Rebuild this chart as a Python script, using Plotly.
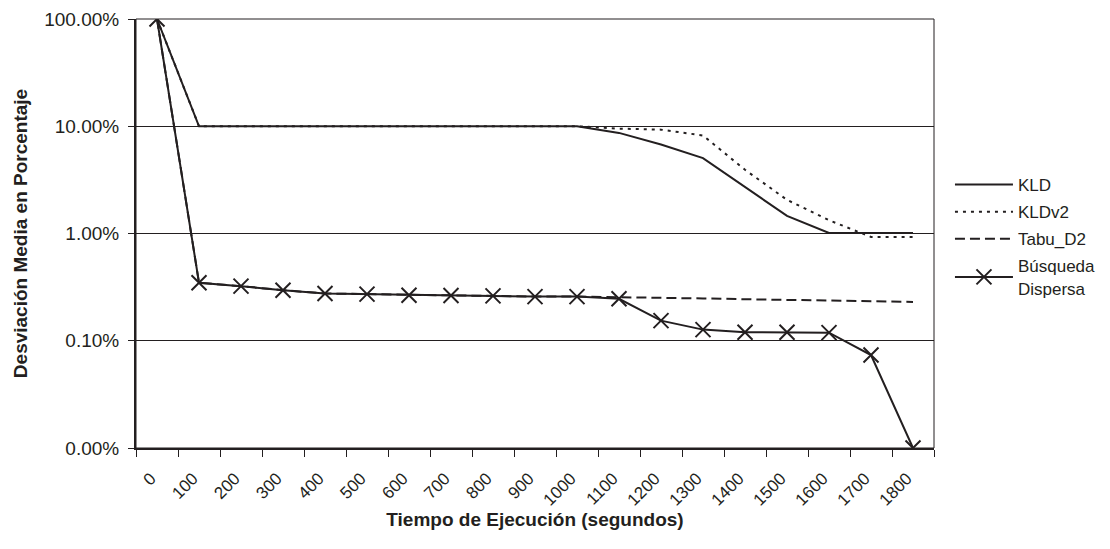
import plotly.graph_objects as go

categories = ["0", "100", "200", "300", "400", "500", "600", "700", "800", "900",
              "1000", "1100", "1200", "1300", "1400", "1500", "1600", "1700", "1800"]

kld = [1.0, 0.10, 0.10, 0.10, 0.10, 0.10, 0.10, 0.10, 0.10, 0.10,
       0.10, 0.0867, 0.0676, 0.0505, 0.0274, 0.0146, 0.0101, 0.0101, 0.0101]
kldv2 = [1.0, 0.10, 0.10, 0.10, 0.10, 0.10, 0.10, 0.10, 0.10, 0.10,
         0.10, 0.095, 0.093, 0.082, 0.0393, 0.0206, 0.0133, 0.0093, 0.0093]
tabu_d2 = [1.0, 0.00347, 0.00323, 0.00296, 0.00276, 0.00272, 0.00266, 0.00264, 0.00262, 0.00258,
           0.00258, 0.00256, 0.00252, 0.00248, 0.00244, 0.00240, 0.00237, 0.00234, 0.00230]
busqueda = [1.0, 0.00347, 0.00323, 0.00296, 0.00276, 0.00272, 0.00266, 0.00264, 0.00262, 0.00258,
            0.00258, 0.00246, 0.00154, 0.00127, 0.00120, 0.00120, 0.00119, 0.000736, 0.0001]

y_tickvals = [0.0001, 0.001, 0.01, 0.1, 1.0]
y_ticktext = ["0.00%", "0.10%", "1.00%", "10.00%", "100.00%"]

INK = "#231f20"
FONT = "Liberation Sans, Arial, sans-serif"

fig = go.Figure()
fig.add_trace(go.Scatter(x=categories, y=kld, name="KLD", mode="lines",
                         line=dict(color=INK, width=2), legendgroup="a"))
fig.add_trace(go.Scatter(x=categories, y=kldv2, name="KLDv2", mode="lines",
                         line=dict(color=INK, width=2, dash="3px,5px"), legendgroup="b"))
fig.add_trace(go.Scatter(x=categories, y=tabu_d2, name="Tabu_D2", mode="lines",
                         line=dict(color=INK, width=2, dash="10px,5px"), legendgroup="c"))
fig.add_trace(go.Scatter(x=categories, y=busqueda, name="Búsqueda<br>Dispersa", mode="lines+markers",
                         line=dict(color=INK, width=2),
                         marker=dict(symbol="x-thin", size=15, color=INK,
                                     line=dict(color=INK, width=2)),
                         legendgroup="d"))

# page body has an 8px margin, so the figure is sized to fit inside the window
fig.update_layout(
    width=1102, height=541,
    template="none",
    margin=dict(l=128, r=176, t=11, b=101, autoexpand=False),
    paper_bgcolor="white", plot_bgcolor="white",
    font=dict(family=FONT, color=INK, size=17),
    showlegend=True,
    legend=dict(x=1.02, y=0.655, xanchor="left", yanchor="top",
                font=dict(size=17, color=INK), tracegroupgap=2, itemwidth=58,
                bgcolor="rgba(0,0,0,0)", borderwidth=0),
    shapes=[dict(type="rect", xref="paper", yref="paper", x0=0, x1=1, y0=0, y1=1,
                 line=dict(color=INK, width=1), layer="below")],
)

fig.update_xaxes(
    type="category", range=[-0.5, 18.5], automargin=False,
    tickson="boundaries", ticks="outside", ticklen=7, tickcolor=INK, tickwidth=1,
    tickangle=-45, tickfont=dict(size=17, family=FONT, color=INK),
    ticklabelstandoff=12, ticklabelshift=-6,
    showline=True, linecolor=INK, linewidth=2, mirror=False,
    showgrid=False, zeroline=False,
    title=dict(text="<b>Tiempo de Ejecución (segundos)</b>", font=dict(size=19, family=FONT, color=INK),
               standoff=4),
)
fig.update_yaxes(
    type="log", range=[-4, 0], automargin=False,
    tickvals=y_tickvals, ticktext=y_ticktext,
    ticks="outside", ticklen=6, tickcolor=INK, tickwidth=1,
    tickfont=dict(size=19, family=FONT, color=INK), ticklabelstandoff=5,
    showline=True, linecolor=INK, linewidth=2, mirror=False,
    showgrid=True, gridcolor=INK, gridwidth=1,
    zeroline=False,
    title=dict(text="<b>Desviación Media en Porcentaje</b>", font=dict(size=19, family=FONT, color=INK),
               standoff=12),
)

fig.write_html("out.html")
